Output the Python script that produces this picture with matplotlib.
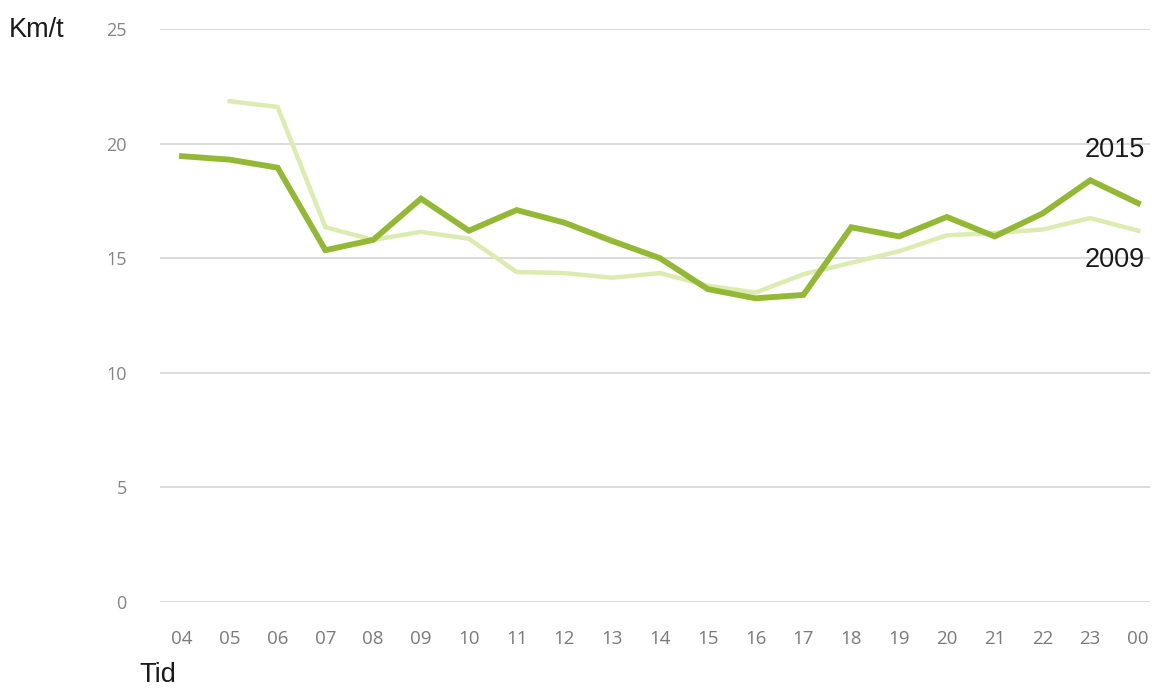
import matplotlib
matplotlib.use("Agg")
import matplotlib.pyplot as plt

hours = ["04", "05", "06", "07", "08", "09", "10", "11", "12", "13", "14",
         "15", "16", "17", "18", "19", "20", "21", "22", "23", "00"]
speed_2015 = [19.45, 19.3, 18.95, 15.35, 15.8, 17.6, 16.2, 17.1, 16.55, 15.75, 15.0,
              13.65, 13.25, 13.4, 16.35, 15.95, 16.8, 15.95, 16.95, 18.4, 17.4]
speed_2009 = [None, 21.85, 21.6, 16.35, 15.8, 16.15, 15.85, 14.4, 14.35, 14.15, 14.35,
              13.8, 13.5, 14.3, 14.8, 15.3, 16.0, 16.1, 16.25, 16.75, 16.2]
y_ticks = [0, 5, 10, 15, 20, 25]

dark_green = "#93b934"
light_green = "#dcebb0"

fig = plt.figure(figsize=(11.52, 6.89), dpi=100)
ax = fig.add_axes([160 / 1152, 1 - 602 / 689, 990 / 1152, 573 / 689])

x = list(range(len(hours)))
x09 = [i for i, v in zip(x, speed_2009) if v is not None]
v09 = [v for v in speed_2009 if v is not None]

ax.plot(x09, v09, color=light_green, lw=3.2, solid_joinstyle="miter", zorder=3)
ax.plot(x, speed_2015, color=dark_green, lw=4.2, solid_joinstyle="miter", zorder=4)

ax.set_ylim(0, 25)
ax.set_xlim(-0.46, 20.25)
ax.set_yticks(y_ticks)
ax.set_yticklabels([str(t) for t in y_ticks])
ax.set_xticks(x)
ax.set_xticklabels(hours)
ax.grid(axis="y", color="#d9d9d9", lw=1.3)
ax.set_axisbelow(True)
for s in ax.spines.values():
    s.set_visible(False)
ax.tick_params(axis="both", length=0, labelcolor="#7a7a7a", labelsize=13.5)
ax.tick_params(axis="x", pad=20)
ax.tick_params(axis="y", pad=24)
for lab in ax.get_xticklabels() + ax.get_yticklabels():
    lab.set_family("Open Sans")
for lab in ax.get_yticklabels():
    lab.set_color("#858585")
    lab.set_fontsize(13)

label_font = ["Liberation Sans", "DejaVu Sans"]
ax.text(20.15, 19.7, "2015", ha="right", va="center", fontsize=19.5,
        family=label_font, color="#1a1a1a")
ax.text(20.15, 14.9, "2009", ha="right", va="center", fontsize=19.5,
        family=label_font, color="#1a1a1a")
fig.text(9 / 1152, 1 - 30 / 689, "Km/t", ha="left", va="center", fontsize=19.5,
         family=label_font, color="#1a1a1a")
fig.text(139 / 1152, 1 - 675 / 689, "Tid", ha="left", va="center", fontsize=19.5,
         family=label_font, color="#1a1a1a")

fig.savefig("out.png", dpi=100)
